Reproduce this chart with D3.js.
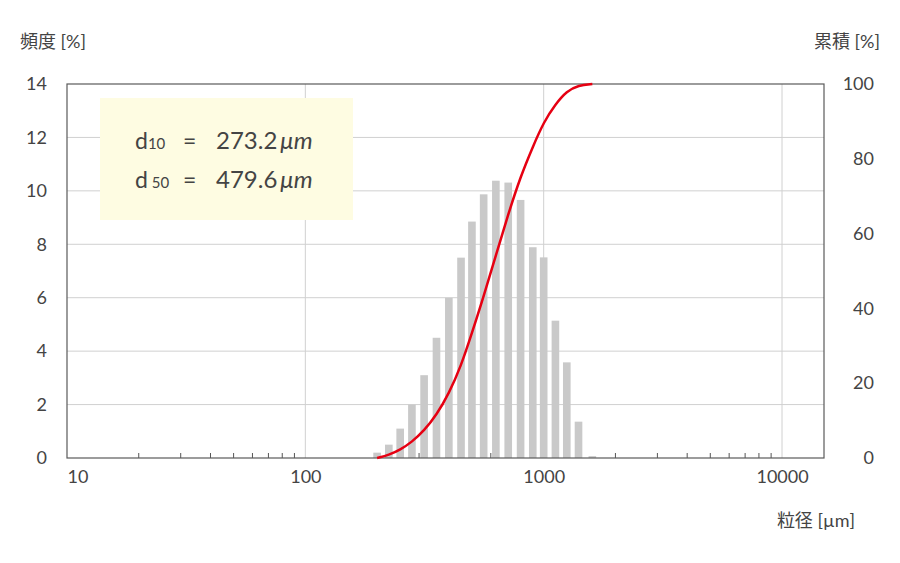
<!DOCTYPE html>
<html>
<head>
<meta charset="utf-8">
<title>粒度分布</title>
<script src="https://d3js.org/d3.v7.min.js"></script>
<style>
  body { margin: 0; background: #fff; }
  text { font-family: "Lato", "Noto Sans CJK JP", sans-serif; fill: #444; }
</style>
</head>
<body>
<script>
// sieve sizes [µm], frequency [%], cumulative [%]
var sizes = [200, 224, 250, 280, 315, 355, 400, 450, 500, 560, 630, 710, 800, 900, 1000, 1120, 1250, 1400, 1600];
var freq = [0.2, 0.5, 1.1, 2.0, 3.1, 4.5, 6.0, 7.5, 8.85, 9.87, 10.38, 10.31, 9.66, 7.89, 7.51, 5.14, 3.58, 1.36, 0.07];
var cumul = [0, 0.8, 2.2, 4.3, 7.3, 11.5, 17.2, 24.6, 33.4, 43.2, 54.2, 65.2, 75.3, 83.2, 89.8, 94.6, 98.1, 99.7, 100];

var xTicks = [10, 100, 1000, 10000];
var leftTicks = [0, 2, 4, 6, 8, 10, 12, 14];
var rightTicks = [0, 20, 40, 60, 80, 100];
var summary = [
  { name: "d", sub: "10", value: "273.2" },
  { name: "d", sub: " 50", value: "479.6" }
];

var width = 900, height = 563;
var m = { left: 67, right: 76, top: 84, bottom: 105 };

var svg = d3.select("body").append("svg")
    .attr("width", width)
    .attr("height", height);

var x = d3.scaleLog()
    .domain([10, 15000])
    .range([m.left, width - m.right]);

var y = d3.scaleLinear()
    .domain([0, 14])
    .range([height - m.bottom, m.top]);

var y2 = d3.scaleLinear()
    .domain([0, 100])
    .range([height - m.bottom, m.top]);

// grid
svg.append("g")
    .selectAll("line")
    .data(leftTicks.slice(1, -1))
    .enter().append("line")
      .attr("x1", m.left).attr("x2", width - m.right)
      .attr("y1", function(d) { return y(d); })
      .attr("y2", function(d) { return y(d); })
      .attr("stroke", "#d0d0d0");

svg.append("g")
    .selectAll("line")
    .data(xTicks.slice(1))
    .enter().append("line")
      .attr("x1", function(d) { return x(d); })
      .attr("x2", function(d) { return x(d); })
      .attr("y1", m.top).attr("y2", height - m.bottom)
      .attr("stroke", "#d0d0d0");

// minor ticks (inside, upward)
var minor = [];
[10, 100, 1000, 10000].forEach(function(p) {
  for (var k = 2; k <= 9; k++) {
    if (p * k < 15000) minor.push(p * k);
  }
});
svg.append("g")
    .selectAll("line")
    .data(minor)
    .enter().append("line")
      .attr("x1", function(d) { return x(d); })
      .attr("x2", function(d) { return x(d); })
      .attr("y1", height - m.bottom).attr("y2", height - m.bottom - 5)
      .attr("stroke", "#555");

// bars
svg.append("g")
    .selectAll("rect")
    .data(sizes)
    .enter().append("rect")
      .attr("x", function(d) { return x(d) - (x(d * 1.122) - x(d)) * 0.32; })
      .attr("width", function(d) { return (x(d * 1.122) - x(d)) * 0.64; })
      .attr("y", function(d, i) { return y(freq[i]); })
      .attr("height", function(d, i) { return y(0) - y(freq[i]); })
      .attr("fill", "#c9c9c9");

// frame
svg.append("rect")
    .attr("x", m.left).attr("y", m.top)
    .attr("width", width - m.left - m.right)
    .attr("height", height - m.top - m.bottom)
    .attr("fill", "none")
    .attr("stroke", "#5a5a5a")
    .attr("stroke-width", 1.2);

// cumulative curve
var line = d3.line()
    .x(function(d) { return x(d); })
    .y(function(d, i) { return y2(cumul[i]); })
    .curve(d3.curveBasis);

svg.append("path")
    .datum(sizes)
    .attr("d", line)
    .attr("fill", "none")
    .attr("stroke", "#e60012")
    .attr("stroke-width", 2.5);

// axes
var xAxis = svg.append("g")
    .attr("transform", "translate(0," + (height - m.bottom) + ")")
    .call(d3.axisBottom(x).tickValues(xTicks).tickFormat(d3.format("d")).tickSize(0).tickPadding(12));
xAxis.select(".domain").remove();
xAxis.selectAll("text").style("font-size", "18px").attr("fill", "#444");
xAxis.selectAll("text").filter(function(d) { return d === 10; }).attr("text-anchor", "start");

var yAxis = svg.append("g")
    .attr("transform", "translate(" + m.left + ",0)")
    .call(d3.axisLeft(y).tickValues(leftTicks).tickSize(0).tickPadding(20));
yAxis.select(".domain").remove();
yAxis.selectAll("text").style("font-size", "18px").attr("fill", "#444");

var yAxis2 = svg.append("g")
    .attr("transform", "translate(" + (width - m.right) + ",0)")
    .call(d3.axisRight(y2).tickValues(rightTicks).tickSize(0).tickPadding(50));
yAxis2.select(".domain").remove();
yAxis2.selectAll("text").style("font-size", "18px").attr("fill", "#444").attr("text-anchor", "end");

// axis titles
svg.append("text").attr("x", 20).attr("y", 48).style("font-size", "18px").text("頻度 [%]");
svg.append("text").attr("x", 880).attr("y", 48).attr("text-anchor", "end").style("font-size", "18px").text("累積 [%]");
svg.append("text").attr("x", 855).attr("y", 527).attr("text-anchor", "end").style("font-size", "18px").text("粒径 [µm]");

// summary box
var box = svg.append("g").attr("transform", "translate(100,98)");
box.append("rect")
    .attr("width", 253).attr("height", 122)
    .attr("fill", "#fefce2");

var rows = box.selectAll(".row")
    .data(summary)
    .enter().append("g")
      .attr("class", "row")
      .attr("transform", function(d, i) { return "translate(0," + (51 + i * 39) + ")"; });

var lbl = rows.append("text").attr("x", 35).style("font-size", "23px");
lbl.append("tspan").text(function(d) { return d.name; });
lbl.append("tspan").style("font-size", "15px").attr("xml:space", "preserve")
    .text(function(d) { return d.sub; });
rows.append("text").attr("x", 83).style("font-size", "23px").text("=");
var val = rows.append("text").attr("x", 116).style("font-size", "24px");
val.append("tspan").text(function(d) { return d.value; });
val.append("tspan").attr("dx", 3).style("font-style", "italic").text("μm");
</script>
</body>
</html>
